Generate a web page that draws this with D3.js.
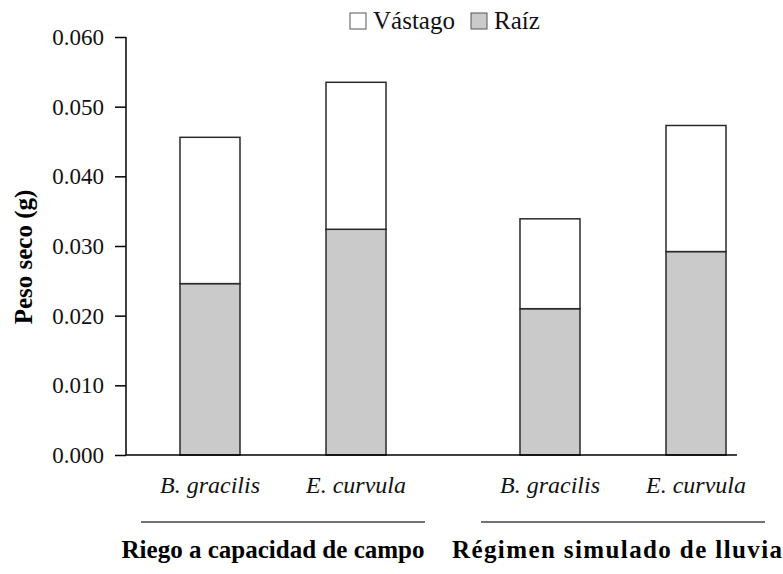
<!DOCTYPE html>
<html><head><meta charset="utf-8">
<script src="https://cdn.jsdelivr.net/npm/d3@7"></script>
<style>body{margin:0;background:#fff}</style>
</head><body><svg id="c" width="783" height="574" font-family="'Liberation Serif', 'Times New Roman', serif"></svg>
<script>
const groups = ["Riego a capacidad de campo", "Régimen simulado de lluvia"];
const species = ["B. gracilis", "E. curvula"];
const raiz = [0.0246, 0.0324, 0.0210, 0.0292];
const vastago = [0.0210, 0.0211, 0.0129, 0.0181];
const yTicks = [0, 0.01, 0.02, 0.03, 0.04, 0.05, 0.06];
const legendLabels = ["Vástago", "Raíz"];

const FF = "'Liberation Serif', 'Times New Roman', serif";
const svg = d3.select("#c");
const y = d3.scaleLinear().domain([0, 0.06]).range([455, 37]);
const pIn = 56/340;
const x0 = d3.scaleBand().domain(groups).range([113, 793]).paddingInner(pIn).paddingOuter(pIn/2);
const x1 = d3.scaleBand().domain(species).range([0, x0.bandwidth()]).paddingInner(0.589).paddingOuter(0.267);

const data = [];
groups.forEach((g, gi) => species.forEach((s, si) => {
  const i = gi*2 + si;
  data.push({g, s, raiz: raiz[i], vastago: vastago[i]});
}));
const stack = d3.stack().keys(["raiz", "vastago"])(data);
const fills = {raiz: "#cbcaca", vastago: "#ffffff"};

// bars
svg.append("g").selectAll("g").data(stack).join("g")
  .attr("fill", d => fills[d.key])
  .selectAll("rect").data(d => d).join("rect")
  .attr("x", d => x0(d.data.g) + x1(d.data.s))
  .attr("width", x1.bandwidth())
  .attr("y", d => y(d[1]))
  .attr("height", d => y(d[0]) - y(d[1]))
  .attr("stroke", "#2a2a2a").attr("stroke-width", 1.5);

// y axis
const ax = svg.append("g").attr("transform", "translate(126,0)")
  .call(d3.axisLeft(y).tickValues(yTicks).tickFormat(d3.format(".3f")).tickSize(11).tickPadding(11))
  .attr("font-family", FF).attr("font-size", 23);
ax.select(".domain").attr("stroke", "#000").attr("stroke-width", 1.5).attr("d", `M0,${y(0.06)}V${y(0)}`);
ax.selectAll(".tick line").attr("stroke", "#000").attr("stroke-width", 1.5);
ax.selectAll(".tick text").attr("fill", "#111");

// baseline
svg.append("line").attr("x1", 126).attr("x2", 737).attr("y1", y(0)).attr("y2", y(0))
  .attr("stroke", "#000").attr("stroke-width", 1.5);

// species labels
svg.append("g").selectAll("text").data(data).join("text")
  .attr("x", d => x0(d.g) + x1(d.s) + x1.bandwidth()/2)
  .attr("y", 493).attr("text-anchor", "middle").attr("font-family", FF)
  .attr("font-style", "italic").attr("font-size", 24).attr("fill", "#111")
  .text(d => d.s);

// group lines and labels
const labelShift = [-10, -6];
const labelLen = [303, 330];
const gg = svg.append("g").selectAll("g").data(groups).join("g");
gg.append("line").attr("x1", d => x0(d)).attr("x2", d => x0(d) + x0.bandwidth())
  .attr("y1", 522).attr("y2", 522).attr("stroke", "#444").attr("stroke-width", 1.3);
gg.append("text").attr("x", (d, i) => x0(d) + x0.bandwidth()/2 + labelShift[i]).attr("y", 558)
  .attr("text-anchor", "middle").attr("font-family", FF).attr("font-weight", "bold").attr("font-size", 25).attr("fill", "#000")
  .attr("textLength", (d, i) => labelLen[i]).attr("lengthAdjust", "spacing")
  .text(d => d);

// y title
svg.append("text").attr("transform", "translate(32,257) rotate(-90)")
  .attr("text-anchor", "middle").attr("font-family", FF).attr("font-weight", "bold").attr("font-size", 25).attr("fill", "#000")
  .text("Peso seco (g)");

// legend
const leg = [{k: "vastago", l: legendLabels[0], x: 350}, {k: "raiz", l: legendLabels[1], x: 471}];
const lg = svg.append("g").selectAll("g").data(leg).join("g").attr("transform", d => `translate(${d.x},13)`);
lg.append("rect").attr("width", 16).attr("height", 16).attr("fill", d => fills[d.k])
  .attr("stroke", "#555").attr("stroke-width", 1);
lg.append("text").attr("x", 23).attr("y", 16).attr("font-family", FF).attr("font-size", 25).attr("fill", "#111").text(d => d.l);
</script></body></html>
